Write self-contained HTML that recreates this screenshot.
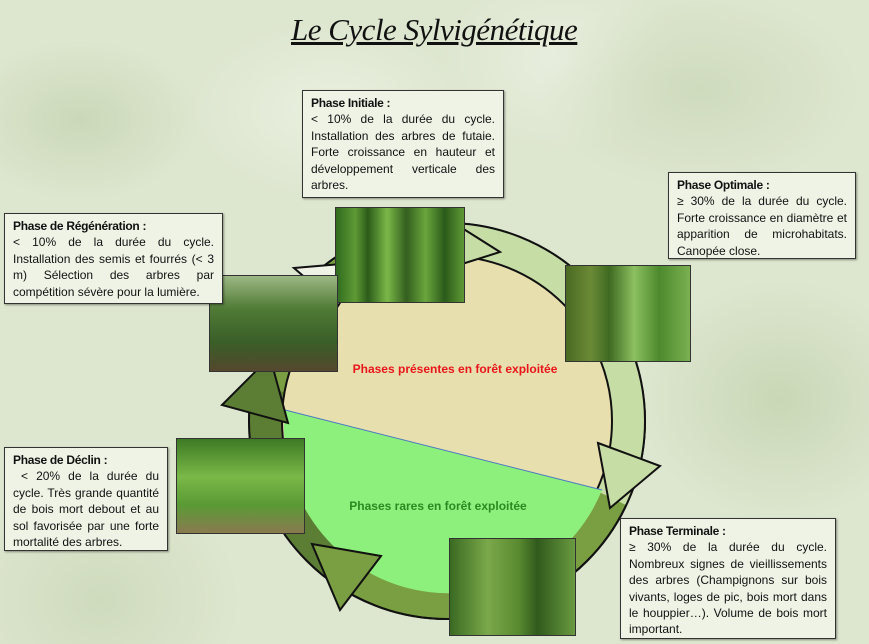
<!DOCTYPE html>
<html><head><meta charset="utf-8"><style>
body{margin:0;width:869px;height:644px;overflow:hidden;background:#dde6cf;position:relative;font-family:"Liberation Sans",sans-serif}
.bg{position:absolute;inset:0;background:
radial-gradient(ellipse 120px 80px at 80px 120px,#cbd8b8,transparent),
radial-gradient(ellipse 160px 100px at 700px 90px,#cfdbbd,transparent),
radial-gradient(ellipse 140px 120px at 780px 400px,#c9d7b6,transparent),
radial-gradient(ellipse 140px 120px at 100px 600px,#cfdbbd,transparent),
radial-gradient(ellipse 140px 90px at 330px 110px,#eaf0e0,transparent),
radial-gradient(ellipse 120px 90px at 560px 60px,#e8eede,transparent);}
.box{position:absolute;background:#eef3e6;border:1px solid #333;box-shadow:1px 1px 2px rgba(0,0,0,.4);font-size:12px;line-height:16.4px;color:#111;padding:4px 8px;box-sizing:border-box;text-align:justify;letter-spacing:0;word-spacing:0}
.box b{display:block;letter-spacing:-0.3px}
.ph{position:absolute;border:1px solid #333;box-sizing:border-box;background:linear-gradient(90deg,#2f6a1f 0%,#5e9a34 15%,#2c5c1a 25%,#7ab848 40%,#335f1f 55%,#6aa63c 70%,#2b5a1a 85%,#5f9a35 100%)}
.title{position:absolute;left:291px;top:12px;font-family:"Liberation Serif",serif;font-style:italic;font-size:31px;text-decoration:underline;color:#111;letter-spacing:-0.5px}
</style></head><body>
<div class="bg"></div>
<div class="title">Le Cycle Sylvigénétique</div>
<svg width="869" height="644" style="position:absolute;left:0;top:0">
<circle cx="447" cy="421" r="198" fill="#7a9e42" stroke="#111" stroke-width="2"/>
<path d="M430 224 A198 198 0 0 1 626 505 L597 491 A165 165 0 0 0 433 257 Z" fill="#c6dea6"/>
<path d="M333 583 A198 198 0 0 1 252 387 L284 392 A165 165 0 0 0 352 556 Z" fill="#5c7e34"/>
<circle cx="447" cy="421" r="198" fill="none" stroke="#111" stroke-width="2"/>
<circle cx="447" cy="421" r="165" fill="#e8dfae" stroke="#111" stroke-width="2"/>
<path d="M285 410 L602 490 A165 165 0 0 1 285 410 Z" fill="#8ef07c"/>
<line x1="285" y1="410" x2="602" y2="490" stroke="#4a7ac0" stroke-width="1"/>
<polygon points="598,443 660,466 610,508" fill="#c6dea6" stroke="#111" stroke-width="2"/>
<polygon points="312,544 381,556 340,610" fill="#7a9e42" stroke="#111" stroke-width="2"/>
<polygon points="270,357 222,405 288,423" fill="#5c7e34" stroke="#111" stroke-width="2"/>
<polygon points="294,268 365,262 338,306" fill="#eef3e6" stroke="#111" stroke-width="2"/>
<polygon points="462,228 500,252 462,264" fill="#c6dea6" stroke="#111" stroke-width="2"/>
<text x="455" y="373" text-anchor="middle" font-family="Liberation Sans" font-weight="bold" font-size="12" fill="#e8161a">Phases présentes en forêt exploitée</text>
<text x="438" y="510" text-anchor="middle" font-family="Liberation Sans" font-weight="bold" font-size="12" fill="#2a8a20">Phases rares en forêt exploitée</text>
</svg>
<div class="ph" style="left:335px;top:207px;width:130px;height:96px"></div>
<div class="ph" style="left:565px;top:265px;width:126px;height:97px;background:linear-gradient(90deg,#4a6a22,#6b8a36 20%,#3f6a22 35%,#8cc060 55%,#4d8a2e 75%,#7ab050)"></div>
<div class="ph" style="left:209px;top:275px;width:129px;height:97px;background:linear-gradient(180deg,#9cb884,#4f7a35 35%,#3a5e28 70%,#55482e)"></div>
<div class="ph" style="left:176px;top:438px;width:129px;height:96px;background:linear-gradient(180deg,#3d7a24,#7ab848 40%,#5a9a34 70%,#8a7a50)"></div>
<div class="ph" style="left:449px;top:538px;width:127px;height:98px;background:linear-gradient(90deg,#3a6a22,#7aa84a 30%,#5a8a30 55%,#2f5a1c 70%,#6a9a40)"></div>
<div class="box" style="left:302px;top:90px;width:202px;height:108px"><b>Phase Initiale :</b>&lt; 10% de la durée du cycle. Installation des arbres de futaie. Forte croissance en hauteur et développement verticale des arbres.</div>
<div class="box" style="left:668px;top:172px;width:188px;height:87px"><b>Phase Optimale :</b>≥ 30% de la durée du cycle. Forte croissance en diamètre et apparition de microhabitats. Canopée close.</div>
<div class="box" style="left:4px;top:213px;width:219px;height:91px"><b>Phase de Régénération :</b>&lt; 10% de la durée du cycle. Installation des semis et fourrés (&lt; 3 m) Sélection des arbres par compétition sévère pour la lumière.</div>
<div class="box" style="left:4px;top:447px;width:164px;height:104px"><b>Phase de Déclin :</b>&nbsp;&lt; 20% de la durée du cycle. Très grande quantité de bois mort debout et au sol favorisée par une forte mortalité des arbres.</div>
<div class="box" style="left:620px;top:518px;width:216px;height:121px"><b>Phase Terminale :</b>≥ 30% de la durée du cycle. Nombreux signes de vieillissements des arbres (Champignons sur bois vivants, loges de pic, bois mort dans le houppier…). Volume de bois mort important.</div>
</body></html>
